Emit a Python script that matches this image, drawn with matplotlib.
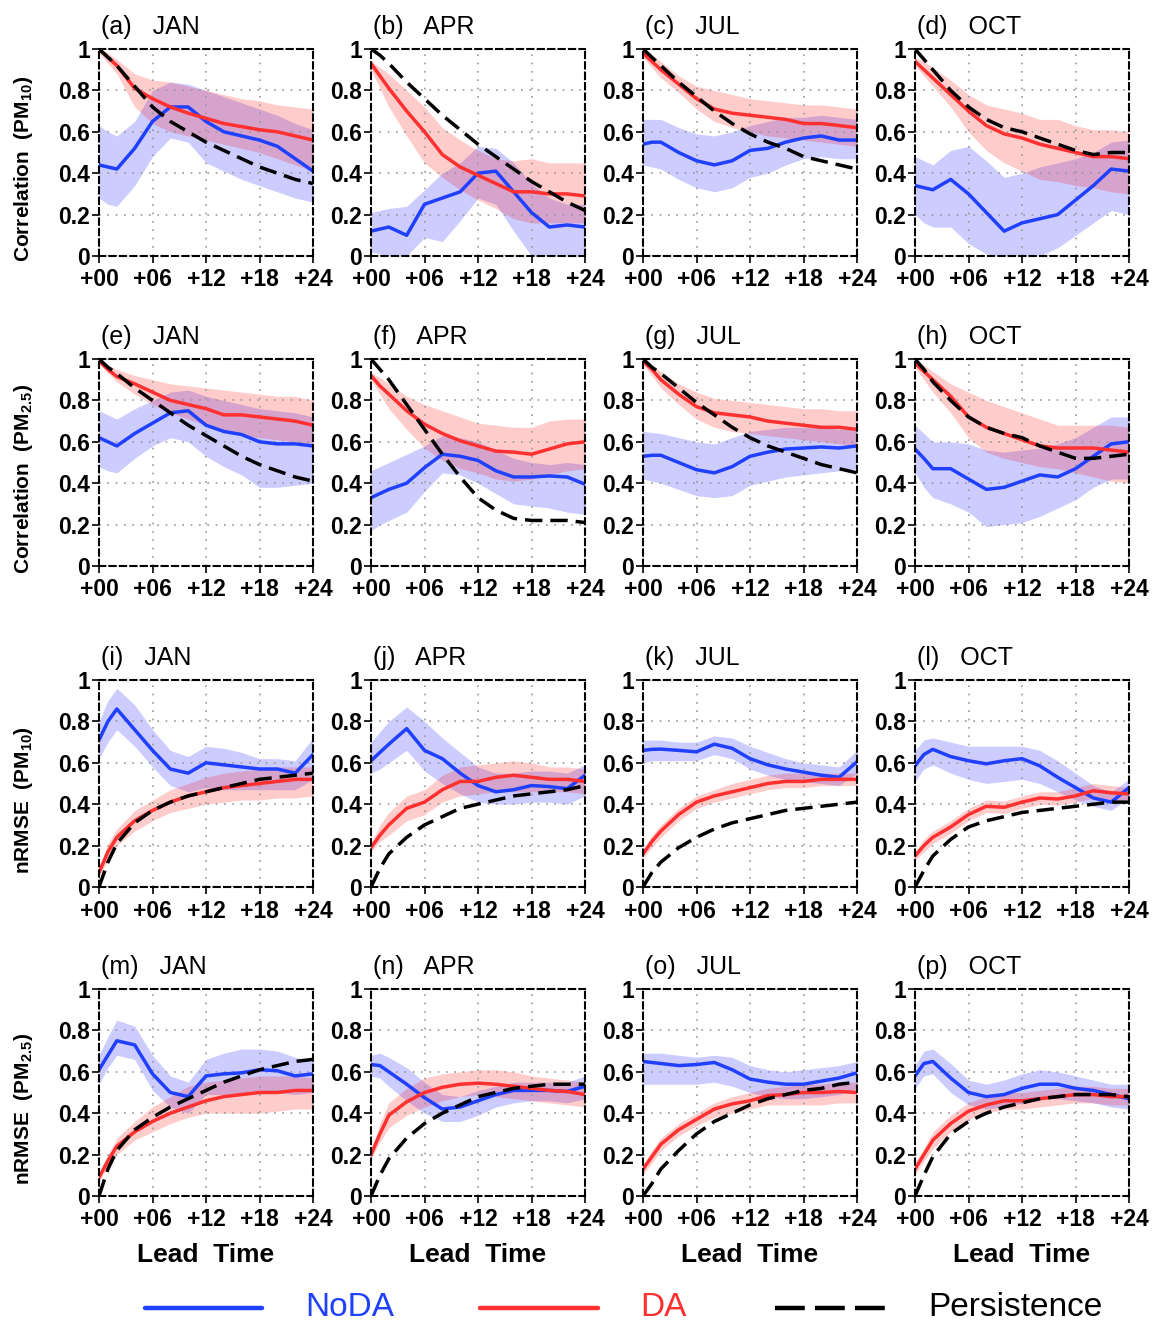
import numpy as np
import matplotlib
matplotlib.use("Agg")
from matplotlib import pyplot as plt
from matplotlib.lines import Line2D

plt.rcParams['font.family'] = ['Liberation Sans', 'DejaVu Sans']
plt.rcParams['mathtext.fontset'] = 'custom'
plt.rcParams['mathtext.rm'] = 'Liberation Sans:bold'
plt.rcParams['mathtext.bf'] = 'Liberation Sans:bold'

# --- DATOS ---
horas = [0, 1, 2, 4, 6, 8, 10, 12, 14, 16, 18, 20, 22, 24]
meses = ["JAN", "APR", "JUL", "OCT"]
letras = "abcdefghijklmnop"
etiquetas_y = ["Correlation  (PM$_{10}$)", "Correlation  (PM$_{2.5}$)",
               "nRMSE  (PM$_{10}$)", "nRMSE  (PM$_{2.5}$)"]
nombres_leyenda = ['NoDA', 'DA', 'Persistence']

# fila 1: correlación PM10 (JAN, APR, JUL, OCT)
corr10_noda = [
    [0.44, 0.43, 0.42, 0.52, 0.65, 0.72, 0.72, 0.65, 0.60, 0.58, 0.56, 0.53, 0.47, 0.41],
    [0.12, 0.13, 0.14, 0.10, 0.25, 0.28, 0.31, 0.40, 0.41, 0.31, 0.21, 0.14, 0.15, 0.14],
    [0.54, 0.55, 0.55, 0.50, 0.46, 0.44, 0.46, 0.51, 0.52, 0.55, 0.57, 0.58, 0.56, 0.56],
    [0.34, 0.33, 0.32, 0.37, 0.30, 0.21, 0.12, 0.16, 0.18, 0.20, 0.27, 0.34, 0.42, 0.41]]
corr10_noda_lo = [
    [0.28, 0.25, 0.24, 0.34, 0.48, 0.57, 0.55, 0.45, 0.41, 0.37, 0.34, 0.31, 0.28, 0.26],
    [0.02, 0.01, 0.00, 0.00, 0.09, 0.07, 0.17, 0.28, 0.25, 0.12, 0.00, 0.00, 0.00, 0.00],
    [0.44, 0.43, 0.42, 0.37, 0.33, 0.31, 0.33, 0.38, 0.40, 0.44, 0.47, 0.48, 0.47, 0.47],
    [0.20, 0.16, 0.14, 0.14, 0.06, 0.01, 0.00, 0.00, 0.00, 0.04, 0.10, 0.16, 0.22, 0.20]]
corr10_noda_hi = [
    [0.63, 0.60, 0.58, 0.65, 0.80, 0.84, 0.83, 0.80, 0.77, 0.74, 0.71, 0.68, 0.64, 0.61],
    [0.21, 0.22, 0.23, 0.24, 0.32, 0.40, 0.45, 0.53, 0.52, 0.45, 0.35, 0.28, 0.25, 0.25],
    [0.66, 0.66, 0.66, 0.62, 0.59, 0.58, 0.60, 0.63, 0.65, 0.67, 0.67, 0.68, 0.67, 0.66],
    [0.48, 0.46, 0.44, 0.51, 0.53, 0.46, 0.38, 0.40, 0.43, 0.45, 0.47, 0.50, 0.55, 0.56]]
corr10_da = [
    [1.00, 0.96, 0.92, 0.81, 0.76, 0.72, 0.69, 0.665, 0.64, 0.625, 0.61, 0.60, 0.58, 0.56],
    [0.93, 0.87, 0.81, 0.70, 0.60, 0.49, 0.43, 0.39, 0.35, 0.31, 0.31, 0.30, 0.30, 0.29],
    [0.98, 0.94, 0.90, 0.83, 0.76, 0.71, 0.69, 0.68, 0.67, 0.66, 0.64, 0.64, 0.63, 0.62],
    [0.94, 0.90, 0.86, 0.78, 0.70, 0.63, 0.59, 0.57, 0.54, 0.52, 0.50, 0.48, 0.48, 0.47]]
corr10_da_lo = [
    [0.98, 0.93, 0.88, 0.72, 0.64, 0.60, 0.58, 0.56, 0.54, 0.52, 0.50, 0.47, 0.44, 0.41],
    [0.90, 0.81, 0.72, 0.58, 0.45, 0.38, 0.32, 0.27, 0.23, 0.18, 0.16, 0.16, 0.16, 0.16],
    [0.96, 0.91, 0.86, 0.79, 0.71, 0.65, 0.62, 0.60, 0.58, 0.57, 0.56, 0.55, 0.54, 0.53],
    [0.92, 0.87, 0.82, 0.72, 0.60, 0.51, 0.45, 0.41, 0.37, 0.36, 0.34, 0.33, 0.31, 0.30]]
corr10_da_hi = [
    [1.00, 0.98, 0.95, 0.88, 0.85, 0.84, 0.82, 0.80, 0.78, 0.76, 0.75, 0.73, 0.72, 0.71],
    [0.94, 0.91, 0.88, 0.80, 0.72, 0.62, 0.56, 0.51, 0.47, 0.46, 0.47, 0.45, 0.45, 0.45],
    [1.00, 0.97, 0.94, 0.87, 0.82, 0.80, 0.78, 0.76, 0.75, 0.74, 0.73, 0.73, 0.72, 0.71],
    [0.96, 0.94, 0.91, 0.85, 0.78, 0.73, 0.71, 0.69, 0.66, 0.66, 0.63, 0.61, 0.61, 0.60]]
corr10_pers = [
    [1.00, 0.96, 0.92, 0.82, 0.72, 0.65, 0.60, 0.55, 0.51, 0.47, 0.43, 0.40, 0.37, 0.35],
    [1.00, 0.97, 0.93, 0.84, 0.76, 0.68, 0.61, 0.54, 0.48, 0.42, 0.36, 0.31, 0.26, 0.22],
    [1.00, 0.96, 0.92, 0.84, 0.77, 0.70, 0.64, 0.59, 0.55, 0.52, 0.48, 0.46, 0.44, 0.42],
    [1.00, 0.95, 0.90, 0.80, 0.72, 0.66, 0.62, 0.60, 0.57, 0.54, 0.51, 0.49, 0.50, 0.50]]

# fila 2: correlación PM2.5
corr25_noda = [
    [0.62, 0.60, 0.58, 0.64, 0.69, 0.74, 0.75, 0.68, 0.65, 0.635, 0.60, 0.59, 0.59, 0.58],
    [0.33, 0.35, 0.37, 0.40, 0.475, 0.54, 0.53, 0.51, 0.46, 0.43, 0.43, 0.435, 0.43, 0.395],
    [0.53, 0.535, 0.535, 0.50, 0.465, 0.45, 0.48, 0.53, 0.55, 0.565, 0.57, 0.575, 0.57, 0.58],
    [0.565, 0.52, 0.47, 0.47, 0.42, 0.37, 0.38, 0.41, 0.44, 0.43, 0.47, 0.53, 0.59, 0.60]]
corr25_noda_lo = [
    [0.48, 0.46, 0.45, 0.52, 0.58, 0.62, 0.60, 0.53, 0.48, 0.44, 0.38, 0.38, 0.39, 0.40],
    [0.17, 0.20, 0.22, 0.26, 0.36, 0.45, 0.44, 0.40, 0.35, 0.30, 0.29, 0.28, 0.26, 0.25],
    [0.42, 0.41, 0.40, 0.37, 0.34, 0.33, 0.34, 0.39, 0.41, 0.43, 0.44, 0.45, 0.46, 0.47],
    [0.45, 0.38, 0.33, 0.30, 0.26, 0.19, 0.20, 0.21, 0.24, 0.28, 0.32, 0.38, 0.42, 0.42]]
corr25_noda_hi = [
    [0.75, 0.73, 0.71, 0.76, 0.80, 0.84, 0.85, 0.82, 0.80, 0.78, 0.76, 0.75, 0.74, 0.72],
    [0.46, 0.48, 0.50, 0.54, 0.58, 0.63, 0.62, 0.60, 0.56, 0.52, 0.50, 0.49, 0.50, 0.49],
    [0.65, 0.645, 0.64, 0.62, 0.60, 0.59, 0.62, 0.65, 0.66, 0.67, 0.67, 0.67, 0.66, 0.66],
    [0.68, 0.64, 0.60, 0.60, 0.59, 0.56, 0.55, 0.56, 0.57, 0.59, 0.62, 0.67, 0.72, 0.72]]
corr25_da = [
    [0.99, 0.95, 0.915, 0.88, 0.84, 0.80, 0.78, 0.76, 0.73, 0.73, 0.72, 0.71, 0.70, 0.68],
    [0.92, 0.87, 0.83, 0.75, 0.685, 0.64, 0.605, 0.58, 0.555, 0.55, 0.54, 0.565, 0.59, 0.60],
    [0.99, 0.95, 0.90, 0.83, 0.77, 0.74, 0.73, 0.72, 0.70, 0.69, 0.68, 0.67, 0.67, 0.66],
    [0.98, 0.94, 0.90, 0.82, 0.72, 0.67, 0.64, 0.61, 0.58, 0.57, 0.57, 0.57, 0.56, 0.55]]
corr25_da_lo = [
    [0.98, 0.93, 0.89, 0.83, 0.78, 0.74, 0.71, 0.68, 0.65, 0.63, 0.62, 0.61, 0.60, 0.58],
    [0.90, 0.83, 0.76, 0.66, 0.57, 0.51, 0.47, 0.45, 0.42, 0.41, 0.42, 0.44, 0.46, 0.47],
    [0.97, 0.92, 0.86, 0.78, 0.71, 0.67, 0.65, 0.64, 0.63, 0.62, 0.61, 0.60, 0.59, 0.58],
    [0.96, 0.90, 0.84, 0.74, 0.62, 0.55, 0.52, 0.50, 0.48, 0.47, 0.45, 0.43, 0.41, 0.40]]
corr25_da_hi = [
    [1.00, 0.97, 0.95, 0.92, 0.90, 0.88, 0.87, 0.86, 0.85, 0.84, 0.83, 0.82, 0.82, 0.80],
    [0.93, 0.91, 0.88, 0.82, 0.78, 0.75, 0.72, 0.69, 0.68, 0.67, 0.67, 0.70, 0.71, 0.71],
    [1.00, 0.97, 0.94, 0.88, 0.84, 0.81, 0.80, 0.79, 0.78, 0.77, 0.76, 0.76, 0.75, 0.75],
    [1.00, 0.97, 0.94, 0.88, 0.84, 0.80, 0.77, 0.74, 0.71, 0.68, 0.68, 0.68, 0.68, 0.67]]
corr25_pers = [
    [1.00, 0.96, 0.93, 0.86, 0.80, 0.74, 0.68, 0.63, 0.58, 0.53, 0.49, 0.46, 0.43, 0.41],
    [1.00, 0.95, 0.90, 0.78, 0.66, 0.54, 0.43, 0.33, 0.27, 0.23, 0.22, 0.22, 0.22, 0.21],
    [1.00, 0.96, 0.93, 0.86, 0.79, 0.73, 0.67, 0.62, 0.58, 0.55, 0.52, 0.49, 0.47, 0.45],
    [1.00, 0.95, 0.89, 0.80, 0.72, 0.67, 0.64, 0.62, 0.58, 0.55, 0.52, 0.52, 0.53, 0.54]]

# fila 3: nRMSE PM10
rmse10_noda = [
    [0.71, 0.80, 0.86, 0.76, 0.66, 0.57, 0.55, 0.60, 0.59, 0.58, 0.57, 0.57, 0.55, 0.64],
    [0.61, 0.65, 0.69, 0.765, 0.66, 0.62, 0.55, 0.49, 0.46, 0.47, 0.49, 0.485, 0.475, 0.54],
    [0.66, 0.665, 0.666, 0.66, 0.653, 0.69, 0.67, 0.62, 0.59, 0.57, 0.555, 0.54, 0.53, 0.605],
    [0.585, 0.64, 0.665, 0.63, 0.61, 0.595, 0.61, 0.62, 0.585, 0.53, 0.48, 0.43, 0.41, 0.48]]
rmse10_noda_lo = [
    [0.62, 0.70, 0.76, 0.68, 0.58, 0.49, 0.46, 0.48, 0.47, 0.47, 0.47, 0.47, 0.47, 0.52],
    [0.55, 0.57, 0.60, 0.66, 0.56, 0.50, 0.45, 0.41, 0.40, 0.40, 0.41, 0.41, 0.40, 0.44],
    [0.60, 0.61, 0.61, 0.61, 0.61, 0.64, 0.62, 0.57, 0.54, 0.52, 0.51, 0.50, 0.49, 0.55],
    [0.51, 0.57, 0.59, 0.55, 0.52, 0.50, 0.51, 0.52, 0.50, 0.46, 0.42, 0.39, 0.37, 0.43]]
rmse10_noda_hi = [
    [0.80, 0.90, 0.96, 0.88, 0.76, 0.66, 0.63, 0.68, 0.67, 0.65, 0.62, 0.62, 0.61, 0.72],
    [0.70, 0.75, 0.80, 0.87, 0.80, 0.72, 0.65, 0.58, 0.55, 0.55, 0.56, 0.56, 0.55, 0.59],
    [0.71, 0.71, 0.71, 0.70, 0.70, 0.73, 0.72, 0.68, 0.65, 0.62, 0.60, 0.59, 0.58, 0.66],
    [0.66, 0.71, 0.72, 0.70, 0.68, 0.68, 0.68, 0.68, 0.66, 0.61, 0.55, 0.49, 0.46, 0.52]]
rmse10_da = [
    [0.07, 0.17, 0.24, 0.32, 0.37, 0.41, 0.44, 0.46, 0.48, 0.49, 0.50, 0.51, 0.52, 0.52],
    [0.19, 0.25, 0.30, 0.38, 0.41, 0.47, 0.51, 0.51, 0.53, 0.54, 0.53, 0.52, 0.52, 0.51],
    [0.16, 0.22, 0.27, 0.35, 0.41, 0.44, 0.46, 0.48, 0.50, 0.51, 0.51, 0.52, 0.52, 0.52],
    [0.15, 0.20, 0.24, 0.29, 0.35, 0.39, 0.385, 0.41, 0.43, 0.425, 0.44, 0.465, 0.455, 0.45]]
rmse10_da_lo = [
    [0.05, 0.13, 0.20, 0.27, 0.32, 0.36, 0.38, 0.40, 0.41, 0.42, 0.42, 0.43, 0.43, 0.44],
    [0.17, 0.22, 0.25, 0.32, 0.35, 0.41, 0.44, 0.45, 0.46, 0.46, 0.46, 0.46, 0.46, 0.45],
    [0.14, 0.19, 0.24, 0.32, 0.38, 0.41, 0.43, 0.45, 0.47, 0.48, 0.48, 0.49, 0.49, 0.49],
    [0.13, 0.17, 0.21, 0.26, 0.32, 0.36, 0.355, 0.38, 0.40, 0.395, 0.41, 0.43, 0.42, 0.42]]
rmse10_da_hi = [
    [0.09, 0.21, 0.28, 0.37, 0.42, 0.47, 0.50, 0.53, 0.55, 0.56, 0.57, 0.58, 0.58, 0.58],
    [0.21, 0.30, 0.36, 0.44, 0.47, 0.54, 0.58, 0.59, 0.60, 0.61, 0.60, 0.58, 0.58, 0.57],
    [0.18, 0.25, 0.30, 0.38, 0.44, 0.47, 0.50, 0.52, 0.54, 0.55, 0.55, 0.55, 0.55, 0.55],
    [0.17, 0.23, 0.27, 0.32, 0.38, 0.42, 0.415, 0.44, 0.46, 0.46, 0.48, 0.50, 0.49, 0.48]]
rmse10_pers = [
    [0.00, 0.12, 0.21, 0.31, 0.37, 0.41, 0.44, 0.46, 0.48, 0.50, 0.52, 0.53, 0.54, 0.55],
    [0.00, 0.09, 0.16, 0.24, 0.30, 0.34, 0.38, 0.40, 0.42, 0.44, 0.45, 0.46, 0.47, 0.49],
    [0.00, 0.07, 0.12, 0.19, 0.24, 0.28, 0.31, 0.33, 0.35, 0.37, 0.38, 0.39, 0.40, 0.41],
    [0.00, 0.08, 0.15, 0.23, 0.29, 0.32, 0.34, 0.36, 0.37, 0.38, 0.39, 0.40, 0.41, 0.41]]

# fila 4: nRMSE PM2.5
rmse25_noda = [
    [0.61, 0.68, 0.75, 0.73, 0.59, 0.50, 0.48, 0.58, 0.59, 0.595, 0.61, 0.605, 0.58, 0.59],
    [0.635, 0.63, 0.60, 0.54, 0.475, 0.42, 0.43, 0.46, 0.49, 0.51, 0.51, 0.51, 0.505, 0.53],
    [0.65, 0.645, 0.64, 0.63, 0.635, 0.645, 0.61, 0.565, 0.55, 0.54, 0.54, 0.555, 0.57, 0.595],
    [0.58, 0.64, 0.65, 0.57, 0.50, 0.48, 0.49, 0.52, 0.54, 0.54, 0.52, 0.51, 0.49, 0.47]]
rmse25_noda_lo = [
    [0.54, 0.62, 0.68, 0.66, 0.51, 0.43, 0.40, 0.49, 0.49, 0.49, 0.50, 0.50, 0.49, 0.50],
    [0.58, 0.57, 0.53, 0.46, 0.40, 0.36, 0.36, 0.39, 0.43, 0.45, 0.46, 0.46, 0.45, 0.47],
    [0.54, 0.54, 0.54, 0.54, 0.54, 0.55, 0.53, 0.50, 0.48, 0.47, 0.47, 0.48, 0.49, 0.52],
    [0.52, 0.58, 0.59, 0.50, 0.44, 0.42, 0.43, 0.45, 0.47, 0.47, 0.46, 0.45, 0.43, 0.42]]
rmse25_noda_hi = [
    [0.68, 0.77, 0.85, 0.82, 0.68, 0.58, 0.55, 0.66, 0.69, 0.71, 0.71, 0.70, 0.67, 0.65],
    [0.68, 0.69, 0.67, 0.62, 0.55, 0.49, 0.48, 0.51, 0.53, 0.55, 0.55, 0.55, 0.55, 0.58],
    [0.69, 0.69, 0.69, 0.68, 0.67, 0.68, 0.67, 0.63, 0.61, 0.60, 0.61, 0.62, 0.63, 0.65],
    [0.63, 0.70, 0.71, 0.64, 0.56, 0.54, 0.56, 0.59, 0.61, 0.60, 0.58, 0.56, 0.54, 0.54]]
rmse25_da = [
    [0.09, 0.17, 0.24, 0.31, 0.36, 0.40, 0.43, 0.46, 0.48, 0.49, 0.50, 0.50, 0.51, 0.51],
    [0.20, 0.30, 0.39, 0.455, 0.50, 0.525, 0.54, 0.545, 0.54, 0.53, 0.52, 0.51, 0.505, 0.49],
    [0.13, 0.19, 0.25, 0.32, 0.37, 0.42, 0.445, 0.46, 0.485, 0.49, 0.50, 0.50, 0.505, 0.50],
    [0.13, 0.20, 0.27, 0.35, 0.41, 0.44, 0.46, 0.46, 0.47, 0.48, 0.49, 0.49, 0.48, 0.48]]
rmse25_da_lo = [
    [0.07, 0.14, 0.20, 0.27, 0.31, 0.35, 0.38, 0.40, 0.40, 0.40, 0.40, 0.41, 0.42, 0.42],
    [0.18, 0.26, 0.33, 0.39, 0.43, 0.46, 0.48, 0.49, 0.48, 0.47, 0.46, 0.45, 0.44, 0.43],
    [0.10, 0.16, 0.22, 0.29, 0.34, 0.38, 0.40, 0.42, 0.44, 0.44, 0.44, 0.44, 0.45, 0.45],
    [0.10, 0.17, 0.23, 0.31, 0.37, 0.40, 0.42, 0.42, 0.43, 0.44, 0.45, 0.45, 0.44, 0.44]]
rmse25_da_hi = [
    [0.11, 0.20, 0.28, 0.36, 0.43, 0.48, 0.53, 0.55, 0.56, 0.57, 0.58, 0.58, 0.58, 0.57],
    [0.22, 0.35, 0.45, 0.52, 0.57, 0.59, 0.60, 0.61, 0.61, 0.60, 0.58, 0.57, 0.56, 0.55],
    [0.15, 0.22, 0.28, 0.35, 0.40, 0.45, 0.48, 0.50, 0.52, 0.53, 0.54, 0.54, 0.55, 0.55],
    [0.16, 0.23, 0.31, 0.39, 0.45, 0.48, 0.50, 0.50, 0.51, 0.52, 0.53, 0.53, 0.52, 0.52]]
rmse25_pers = [
    [0.00, 0.13, 0.22, 0.32, 0.38, 0.43, 0.47, 0.51, 0.55, 0.58, 0.61, 0.63, 0.65, 0.66],
    [0.00, 0.10, 0.18, 0.28, 0.35, 0.40, 0.44, 0.48, 0.50, 0.52, 0.53, 0.54, 0.54, 0.54],
    [0.00, 0.06, 0.13, 0.22, 0.30, 0.36, 0.40, 0.44, 0.47, 0.49, 0.51, 0.52, 0.54, 0.55],
    [0.00, 0.10, 0.19, 0.30, 0.36, 0.40, 0.43, 0.45, 0.47, 0.48, 0.49, 0.49, 0.49, 0.48]]

filas = [
    (corr10_noda, corr10_noda_lo, corr10_noda_hi, corr10_da, corr10_da_lo, corr10_da_hi, corr10_pers),
    (corr25_noda, corr25_noda_lo, corr25_noda_hi, corr25_da, corr25_da_lo, corr25_da_hi, corr25_pers),
    (rmse10_noda, rmse10_noda_lo, rmse10_noda_hi, rmse10_da, rmse10_da_lo, rmse10_da_hi, rmse10_pers),
    (rmse25_noda, rmse25_noda_lo, rmse25_noda_hi, rmse25_da, rmse25_da_lo, rmse25_da_hi, rmse25_pers),
]

AZUL = '#2040ff'
ROJO = '#ff3030'
GUIONES = (5.0, 2.3)

# --- FIGURA ---
W, H = 1160, 1324
fig = plt.figure(figsize=(W / 100, H / 100), dpi=100)

col_izq = [99, 371, 643, 915]
fila_top = [49, 359, 680, 989]
ancho, alto = 214, 207

for i, datos in enumerate(filas):
    noda, noda_lo, noda_hi, da, da_lo, da_hi, pers = datos
    for j in range(4):
        ax = fig.add_axes([col_izq[j] / W, 1 - (fila_top[i] + alto) / H, ancho / W, alto / H])
        ax.fill_between(horas, noda_lo[j], noda_hi[j], color='blue', alpha=0.2, lw=0)
        ax.fill_between(horas, da_lo[j], da_hi[j], color='red', alpha=0.2, lw=0)
        ax.plot(horas, noda[j], color=AZUL, lw=2.5)
        ax.plot(horas, da[j], color=ROJO, lw=2.5)
        ax.plot(horas, pers[j], color='black', lw=2.5, dashes=GUIONES)
        ax.set_xlim(0, 24)
        ax.set_ylim(0, 1)
        ax.set_xticks([0, 6, 12, 18, 24])
        ax.set_xticklabels(['+00', '+06', '+12', '+18', '+24'])
        ax.set_yticks([0, 0.2, 0.4, 0.6, 0.8, 1])
        ax.set_yticklabels(['0', '0.2', '0.4', '0.6', '0.8', '1'])
        ax.tick_params(direction='out', length=5, width=1.2, labelsize=16.5)
        ax.tick_params(axis='y', pad=1.5)
        ax.tick_params(axis='x', pad=4)
        for lab in ax.get_xticklabels() + ax.get_yticklabels():
            lab.set_fontweight('bold')
        ax.grid(True, color='#999999', linestyle=(0, (1, 4)), lw=1.2)
        for sp in ax.spines.values():
            sp.set_linestyle((0, (3, 2)))
            sp.set_linewidth(1.5)
        ax.text(0.01, 1.105, f"({letras[4 * i + j]})   {meses[j]}", transform=ax.transAxes,
                fontsize=18, va='center', ha='left')
        if j == 0:
            ax.set_ylabel(etiquetas_y[i], fontsize=15, fontweight='bold')
            ax.yaxis.set_label_coords(-0.30, 0.42)
        if i == 3:
            ax.set_xlabel("Lead  Time", fontsize=19, fontweight='bold', labelpad=8)

# leyenda (manual, en coordenadas de figura)
colores = [AZUL, ROJO, 'black']
x_linea = [(145, 262), (480, 598), (775, 888)]
x_texto = [305, 640, 928]
y_ley = 1 - 1308 / H
for k in range(3):
    x0, x1 = x_linea[k]
    ln = Line2D([x0 / W, x1 / W], [y_ley, y_ley], transform=fig.transFigure,
                color=colores[k], lw=3.2, solid_capstyle='round')
    if k == 2:
        ln.set_dashes((6.7, 2.3))
    fig.add_artist(ln)
    fig.text(x_texto[k] / W, y_ley, nombres_leyenda[k], color=colores[k],
             fontsize=24, va='center', ha='left')

fig.savefig('out.png', dpi=100)
